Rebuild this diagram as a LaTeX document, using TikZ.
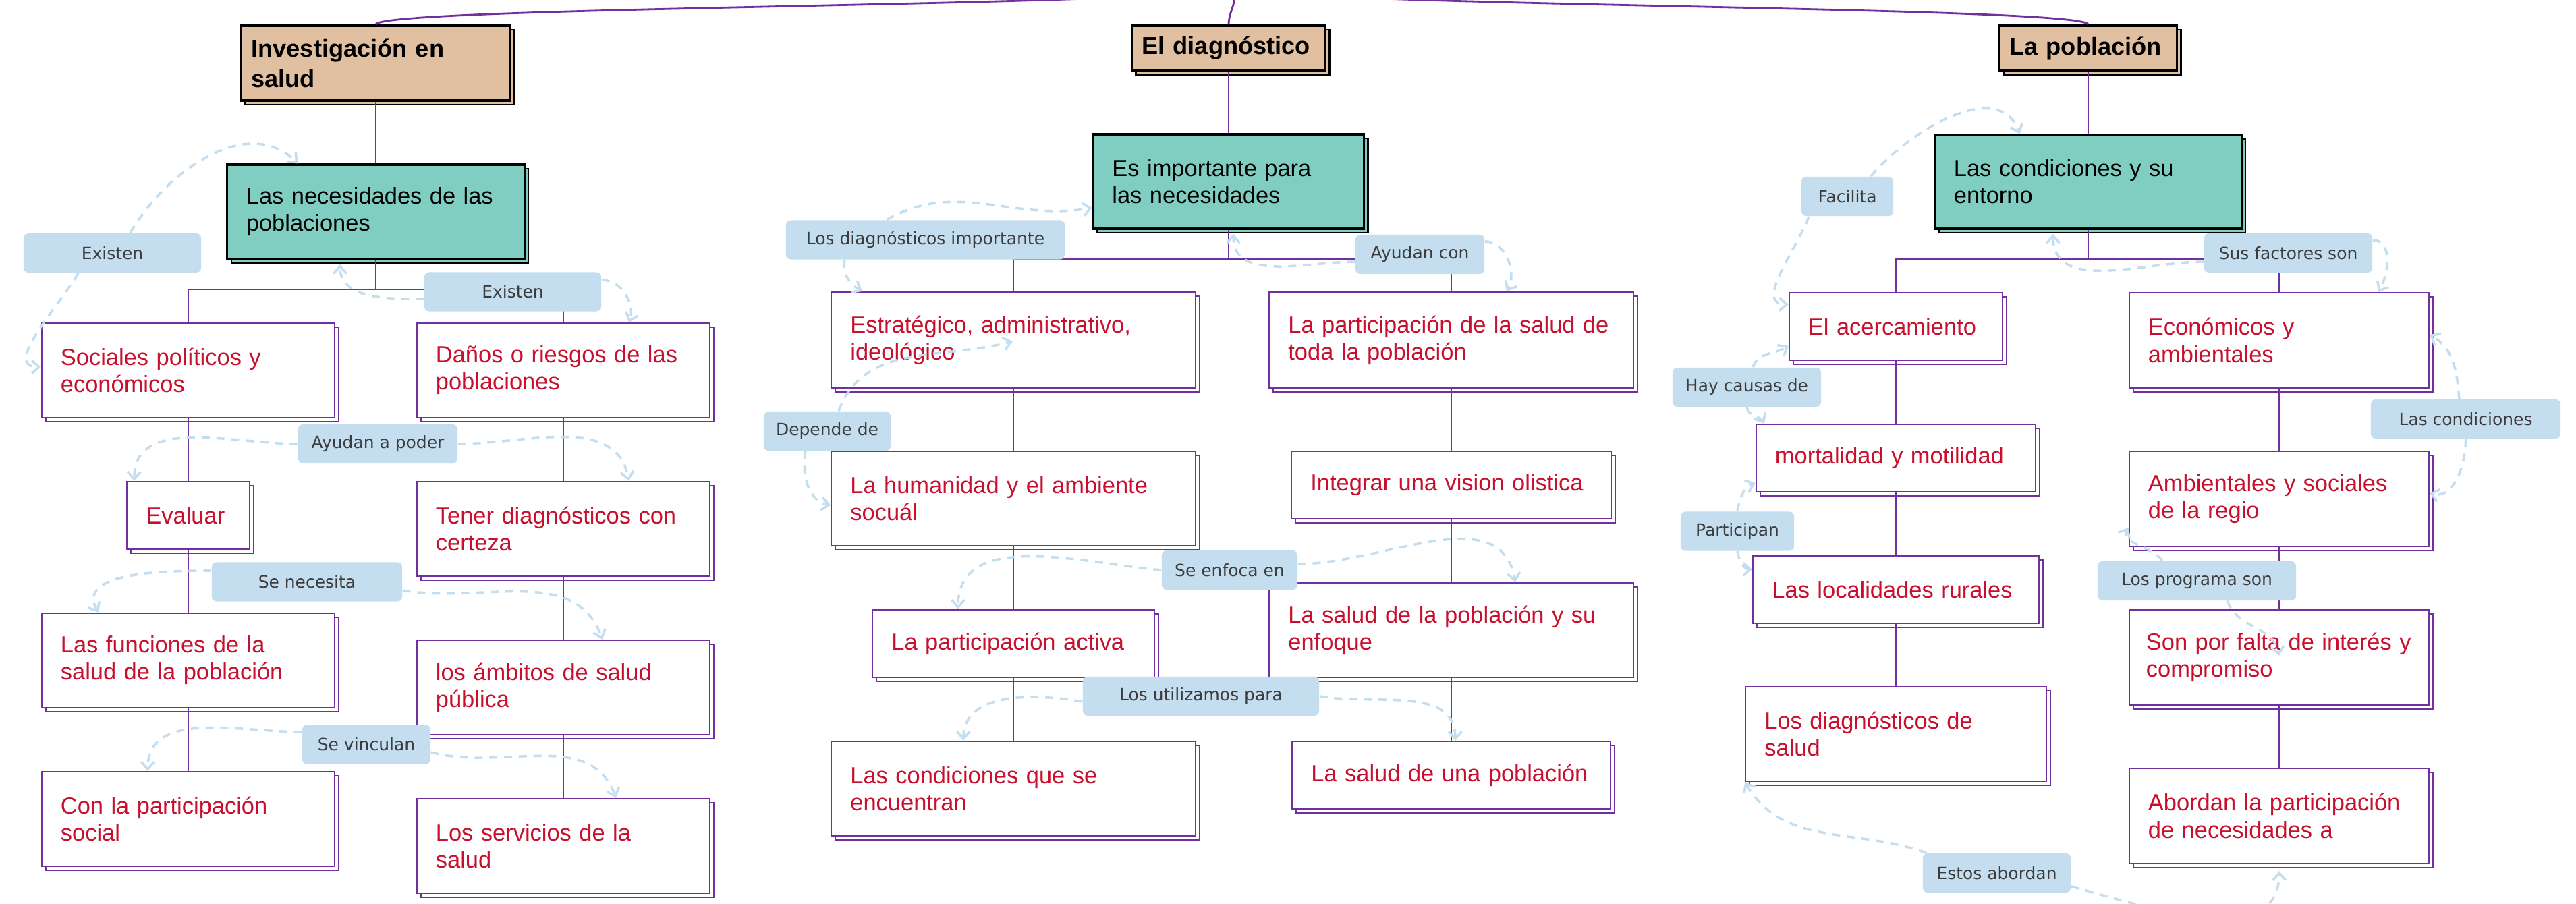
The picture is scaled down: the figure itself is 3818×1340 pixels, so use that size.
\documentclass[tikz,border=0pt]{standalone}
\usepackage{fontspec}
\setmainfont{Liberation Sans}
\newfontfamily\lblfont{DejaVu Sans}
\usetikzlibrary{shadows,arrows.meta}

\definecolor{headtan}{HTML}{E1BFA1}
\definecolor{maingreen}{HTML}{80CEC2}
\definecolor{itemred}{HTML}{C8102E}
\definecolor{treepurple}{HTML}{7030A0}
\definecolor{linkblue}{HTML}{C4DEF0}
\definecolor{linktext}{HTML}{3C3C3C}

\begin{document}
\begin{tikzpicture}
[x=0.01cm,y=-0.01cm,
head/.style={draw=black,line width=0.9pt,fill=headtan,inner xsep=0.15cm,inner ysep=0pt,align=left,
  font=\bfseries\fontsize{10.3}{12.8}\selectfont,
  copy shadow={shadow xshift=0.06cm,shadow yshift=-0.06cm,fill=headtan,draw=black,line width=0.7pt}},
main/.style={draw=black,line width=0.9pt,fill=maingreen,inner xsep=0.28cm,inner ysep=0pt,align=left,
  font=\fontsize{9.8}{11.4}\selectfont,
  copy shadow={shadow xshift=0.06cm,shadow yshift=-0.06cm,fill=maingreen,draw=black,line width=0.7pt}},
item/.style={draw=treepurple,line width=0.6pt,fill=white,text=itemred,inner xsep=0.28cm,inner ysep=0pt,align=left,
  font=\fontsize{9.8}{11.4}\selectfont,
  copy shadow={shadow xshift=0.06cm,shadow yshift=-0.06cm,fill=white,draw=treepurple,line width=0.6pt}},
link/.style={fill=linkblue,rounded corners=0.07cm,minimum height=0.58cm,inner sep=0pt,text=linktext,
  font=\lblfont\fontsize{7.1}{8.5}\selectfont},
tree/.style={draw=treepurple,line width=0.5pt},
trunk/.style={draw=treepurple,line width=0.8pt},
rel/.style={draw=linkblue,line width=1pt,dash pattern=on 3.4pt off 2.8pt,
  -{Straight Barb[length=1.1mm,width=1.9mm]}},
]

%Box widths
\def\wa{3.78cm}
\def\wb{4.83cm}
\def\wc{3.88cm}

\useasboundingbox[fill=white] (0,0) rectangle (3818,1340);

%Investigacion en salud
\node (t1) at (557,93.5)[head,text width=3.69cm,minimum height=1.11cm] {Investigación en\\salud};
\node (m1) at (557,314)[main,text width=3.84cm,minimum height=1.4cm] {Las necesidades de las\\poblaciones};
\node (a1) at (279,549)[item,text width=\wa,minimum height=1.4cm] {Sociales políticos y\\económicos};
\node (b1) at (835,549)[item,text width=\wa,minimum height=1.4cm] {Daños o riesgos de las\\poblaciones};
\node (ev) at (279,764)[item,text width=1.25cm,minimum height=1cm] {Evaluar};
\node (c1) at (835,784)[item,text width=\wa,minimum height=1.4cm] {Tener diagnósticos con\\certeza};
\node (d1) at (279,979)[item,text width=\wa,minimum height=1.4cm] {Las funciones de la\\salud de la población};
\node (e1) at (835,1019)[item,text width=\wa,minimum height=1.4cm] {los ámbitos de salud\\pública};
\node (f1) at (279,1214)[item,text width=\wa,minimum height=1.4cm] {Con la participación\\social};
\node (g1) at (835,1254)[item,text width=\wa,minimum height=1.4cm] {Los servicios de la\\salud};

%El diagnostico
\node (t2) at (1821,71.5)[head,text width=2.57cm,minimum height=0.67cm] {El diagnóstico};
\node (m2) at (1821,269)[main,text width=3.45cm,minimum height=1.4cm] {Es importante para\\las necesidades};
\node (a2) at (1502,504)[item,text width=\wb,minimum height=1.42cm] {Estratégico, administrativo,\\ideológico};
\node (b2) at (2151,504)[item,text width=\wb,minimum height=1.42cm] {La participación de la salud de\\toda la población};
\node (c2) at (1502,739)[item,text width=\wb,minimum height=1.4cm] {La humanidad y el ambiente\\socuál};
\node (d2) at (2151,719)[item,text width=4.17cm,minimum height=1cm] {Integrar una vision olistica};
\node (e2) at (1502,954)[item,text width=3.61cm,minimum height=1cm] {La participación activa};
\node (f2) at (2151,934)[item,text width=\wb,minimum height=1.4cm] {La salud de la población y su\\enfoque};
\node (g2) at (1502,1169)[item,text width=\wb,minimum height=1.4cm] {Las condiciones que se\\encuentran};
\node (h2) at (2151,1149)[item,text width=4.15cm,minimum height=1cm] {La salud de una población};

%La poblacion
\node (t3) at (3095,71.5)[head,text width=2.33cm,minimum height=0.67cm] {La población};
\node (m3) at (3095,269.5)[main,text width=3.98cm,minimum height=1.39cm] {Las condiciones y su\\entorno};
\node (a3) at (2810,484)[item,text width=2.6cm,minimum height=1cm] {El acercamiento};
\node (b3) at (3378,504.5)[item,text width=\wc,minimum height=1.41cm] {Económicos y\\ambientales};
\node (c3) at (2810,679)[item,text width=3.58cm,minimum height=1cm] {mortalidad y motilidad};
\node (d3) at (3378,739.5)[item,text width=\wc,minimum height=1.41cm] {Ambientales y sociales\\de la regio};
\node (e3) at (2810,874)[item,text width=3.67cm,minimum height=1cm] {Las localidades rurales};
\node (f3) at (3378,974.5)[item,inner xsep=0.25cm,text width=3.94cm,minimum height=1.41cm] {Son por falta de interés y\\compromiso};
\node (g3) at (2810,1088)[item,text width=3.89cm,minimum height=1.4cm] {Los diagnósticos de\\salud};
\node (h3) at (3378,1209.5)[item,text width=\wc,minimum height=1.41cm] {Abordan la participación\\de necesidades a};

%Drawing tree
\coordinate (root) at (1830,-15);
\coordinate (j1) at (557,429);
\coordinate (j2) at (1821,384);
\coordinate (j3) at (3095,384);

\draw[trunk] (root) .. controls (1650,10) and (557,10) .. (t1.north);
\draw[trunk] (root) .. controls (1832,8) and (1821,18) .. (t2.north);
\draw[trunk] (root) .. controls (2010,10) and (3095,10) .. (t3.north);

\draw[tree] (t1) -- (m1) -- (j1) -| (a1);
\draw[tree] (j1) -| (b1);
\draw[tree] (a1) -- (ev) -- (d1) -- (f1);
\draw[tree] (b1) -- (c1) -- (e1) -- (g1);

\draw[tree] (t2) -- (m2) -- (j2) -| (a2);
\draw[tree] (j2) -| (b2);
\draw[tree] (a2) -- (c2) -- (e2) -- (g2);
\draw[tree] (b2) -- (d2) -- (f2) -- (h2);

\draw[tree] (t3) -- (m3) -- (j3) -| (a3);
\draw[tree] (j3) -| (b3);
\draw[tree] (a3) -- (c3) -- (e3) -- (g3);
\draw[tree] (b3) -- (d3) -- (f3) -- (h3);

%Linking words
\node (ex1) at (166.5,375)[link,minimum width=2.63cm] {Existen};
\node (ex2) at (760,432.5)[link,minimum width=2.62cm] {Existen};
\node (ayu) at (560,658)[link,minimum width=2.36cm] {Ayudan a poder};
\node (nec) at (455,862.5)[link,minimum width=2.82cm] {Se necesita};
\node (vin) at (543,1103.5)[link,minimum width=1.9cm] {Se vinculan};
\node (ldi) at (1371.5,355.5)[link,minimum width=4.13cm] {Los diagnósticos importante};
\node (ayc) at (2104.5,377)[link,minimum width=1.91cm] {Ayudan con};
\node (dep) at (1226,639)[link,minimum width=1.88cm] {Depende de};
\node (enf) at (1822.5,845)[link,minimum width=2.01cm] {Se enfoca en};
\node (uti) at (1780,1032)[link,minimum width=3.5cm] {Los utilizamos para};
\node (fac) at (2738,291)[link,minimum width=1.36cm] {Facilita};
\node (sfs) at (3391.5,375)[link,minimum width=2.49cm] {Sus factores son};
\node (hay) at (2589,574)[link,minimum width=2.2cm] {Hay causas de};
\node (lco) at (3654.5,621)[link,minimum width=2.81cm] {Las condiciones};
\node (par) at (2575,787.5)[link,minimum width=1.68cm] {Participan};
\node (pro) at (3256,861)[link,minimum width=2.94cm] {Los programa son};
\node (est) at (2959.5,1294)[link,minimum width=2.19cm] {Estos abordan};

%Drawing cross links
\draw[rel] ([xshift=0.265cm]ex1.north) to[out=60,in=135] ([xshift=1.06cm]m1.north west);
\draw[rel] ([xshift=-0.505cm]ex1.south) to[out=240,in=180] ([yshift=0.05cm]a1.west);
\draw[rel] ([yshift=-0.105cm]ex2.west) to[out=180,in=270] ([xshift=-0.53cm,yshift=-0.06cm]m1.south);
\draw[rel] ([yshift=0.175cm]ex2.east) to[out=0,in=70] ([xshift=3.15cm]b1.north west);
\draw[rel] (ayu.west) to[out=180,in=90] ([xshift=0.115cm]ev.north west);
\draw[rel] (ayu.east) to[out=0,in=100] ([xshift=3.15cm]c1.north west);
\draw[rel] ([yshift=0.165cm]nec.west) to[out=180,in=120] ([xshift=0.85cm]d1.north west);
\draw[rel] ([yshift=-0.125cm]nec.east) to[out=-10,in=110] ([xshift=2.76cm]e1.north west);
\draw[rel] ([yshift=0.185cm]vin.west) to[out=180,in=90] ([xshift=1.58cm]f1.north west);
\draw[rel] ([yshift=-0.115cm]vin.east) to[out=-15,in=110] ([xshift=2.96cm]g1.north west);

\draw[rel] ([xshift=1.5cm]ldi.north west) to[out=30,in=190] ([yshift=-0.39cm]m2.west);
\draw[rel] ([xshift=-1.195cm]ldi.south) to[out=260,in=150] ([xshift=0.465cm]a2.north west);
\draw[rel] ([yshift=-0.11cm]ayc.west) to[out=180,in=270] ([xshift=0.07cm,yshift=-0.06cm]m2.south);
\draw[rel] ([yshift=0.19cm]ayc.east) to[out=0,in=60] ([xshift=3.525cm]b2.north west);
\draw[rel] ([xshift=0.17cm]dep.north) to[out=70,in=195] ([xshift=2.695cm,yshift=-0.74cm]a2.north west);
\draw[rel] ([xshift=-0.32cm]dep.south) to[out=260,in=170] ([yshift=-0.1cm]c2.west);
\draw[rel] (enf.west) to[out=175,in=90] ([xshift=1.275cm]e2.north west);
\draw[rel] ([yshift=0.09cm]enf.east) to[out=0,in=100] ([xshift=3.655cm]f2.north west);
\draw[rel] ([yshift=-0.08cm]uti.west) to[out=170,in=90] ([xshift=1.965cm]g2.north west);
\draw[rel] (uti.east) to[out=-10,in=90] ([xshift=2.425cm]h2.north west);

\draw[rel] ([xshift=0.35cm]fac.north) to[out=50,in=110] ([xshift=1.27cm]m3.north west);
\draw[rel] ([xshift=-0.57cm]fac.south) to[out=250,in=180] ([yshift=0.33cm]a3.west);
\draw[rel] ([yshift=-0.13cm]sfs.west) to[out=180,in=270] ([xshift=-0.52cm,yshift=-0.06cm]m3.south);
\draw[rel] ([yshift=0.19cm]sfs.east) to[out=0,in=60] ([xshift=1.47cm]b3.north);
\draw[rel] ([xshift=0.09cm]hay.north) to[out=70,in=210] ([yshift=-0.29cm]a3.west);
\draw[rel] (hay.south) to[out=280,in=120] ([xshift=0.13cm]c3.north west);
\draw[rel] ([xshift=-0.095cm]lco.north) to[out=95,in=-30] ([yshift=0.085cm]b3.east);
\draw[rel] (lco.south) to[out=270,in=-15] ([yshift=0.085cm]d3.east);
\draw[rel] (par.north) to[out=80,in=200] ([yshift=-0.37cm]c3.west);
\draw[rel] (par.south) to[out=280,in=180] ([yshift=0.3cm]e3.west);
\draw[rel] ([xshift=-0.51cm]pro.north) to[out=125,in=240] ([yshift=-0.425cm]d3.west);
\draw[rel] ([xshift=0.45cm]pro.south) to[out=290,in=100] ([yshift=-0.69cm]f3.north);
\draw[rel] ([xshift=0.06cm]est.north west) to[out=160,in=-60] (g3.south west);
\draw[rel] ([yshift=-0.2cm]est.east) to[out=-15,in=-90] ([yshift=-0.1cm]h3.south);
\end{tikzpicture}
\end{document}
